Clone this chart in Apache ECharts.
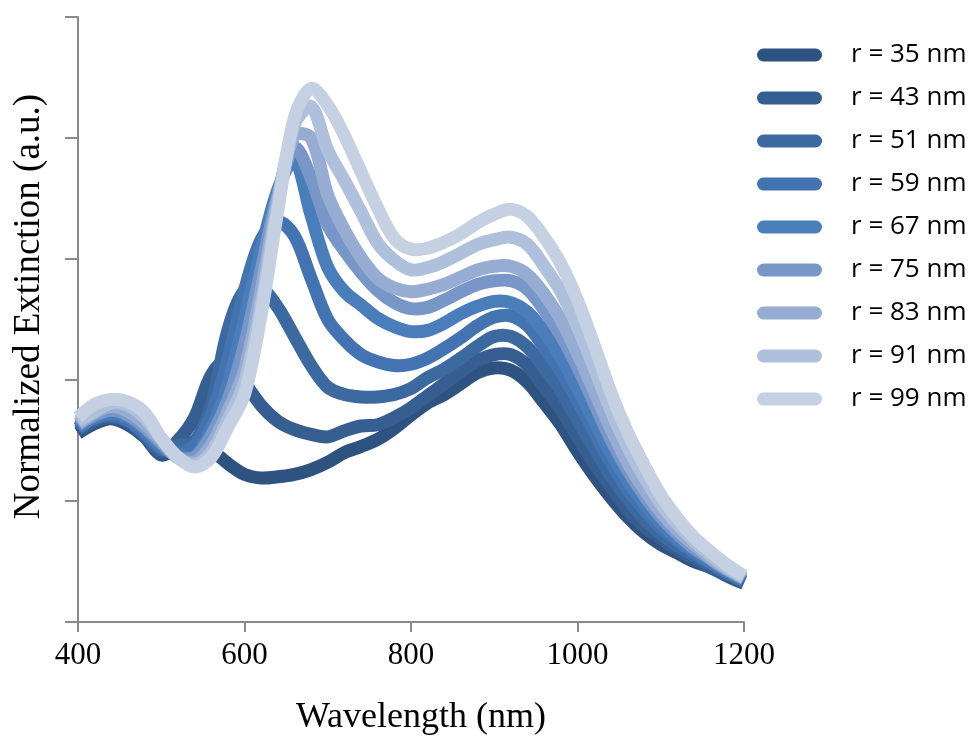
<!DOCTYPE html>
<html>
<head>
<meta charset="utf-8">
<script src="https://cdn.jsdelivr.net/npm/echarts@6/dist/echarts.min.js"></script>
<style>
html,body{margin:0;padding:0;background:#fff;}
#chart{width:976px;height:744px;}
</style>
</head>
<body>
<div id="chart"></div>
<script>
// wavelength grid (nm)
var wavelengths = [400,420,440,460,480,500,520,540,560,580,600,620,640,660,680,700,720,740,760,780,800,820,840,860,880,900,920,940,960,980,1000,1020,1040,1060,1080,1100,1120,1140,1160,1180,1200];
// normalized extinction for each radius
var r35 = [1.56,1.64,1.68,1.63,1.53,1.38,1.45,1.48,1.42,1.31,1.22,1.19,1.20,1.22,1.26,1.32,1.40,1.45,1.51,1.60,1.71,1.81,1.88,1.97,2.06,2.10,2.08,1.98,1.81,1.63,1.41,1.21,1.03,0.87,0.74,0.64,0.57,0.50,0.45,0.38,0.32];
var r43 = [1.58,1.66,1.69,1.65,1.54,1.40,1.50,1.69,2.04,2.17,1.98,1.79,1.66,1.59,1.55,1.53,1.58,1.62,1.63,1.69,1.77,1.87,1.97,2.07,2.16,2.21,2.21,2.12,1.94,1.75,1.53,1.31,1.12,0.93,0.79,0.69,0.60,0.52,0.45,0.39,0.33];
var r51 = [1.60,1.68,1.70,1.66,1.55,1.42,1.46,1.49,1.79,2.41,2.74,2.76,2.60,2.36,2.12,1.94,1.88,1.86,1.86,1.88,1.93,2.02,2.09,2.18,2.28,2.36,2.36,2.27,2.10,1.91,1.67,1.44,1.21,1.02,0.85,0.73,0.63,0.55,0.47,0.40,0.33];
var r59 = [1.60,1.69,1.71,1.67,1.56,1.44,1.40,1.46,1.71,2.17,2.74,3.16,3.31,3.19,2.84,2.50,2.33,2.21,2.15,2.12,2.13,2.18,2.26,2.35,2.45,2.52,2.53,2.45,2.27,2.07,1.83,1.57,1.32,1.10,0.93,0.78,0.67,0.57,0.49,0.41,0.34];
var r67 = [1.61,1.69,1.73,1.69,1.59,1.45,1.38,1.37,1.59,1.96,2.50,3.07,3.57,3.82,3.36,2.93,2.73,2.62,2.51,2.44,2.40,2.41,2.47,2.55,2.61,2.65,2.64,2.56,2.40,2.19,1.93,1.67,1.40,1.17,0.98,0.82,0.69,0.59,0.50,0.42,0.35];
var r75 = [1.63,1.71,1.75,1.71,1.61,1.48,1.36,1.36,1.54,1.83,2.29,2.91,3.53,3.92,3.67,3.28,3.07,2.89,2.74,2.64,2.59,2.60,2.66,2.73,2.79,2.82,2.82,2.75,2.58,2.37,2.11,1.81,1.51,1.26,1.05,0.87,0.73,0.61,0.52,0.43,0.36];
var r83 = [1.64,1.73,1.78,1.74,1.64,1.50,1.36,1.32,1.46,1.74,2.08,2.74,3.49,4.02,4.00,3.53,3.24,3.01,2.84,2.76,2.73,2.75,2.79,2.85,2.91,2.94,2.94,2.87,2.71,2.50,2.22,1.91,1.60,1.32,1.10,0.91,0.76,0.64,0.53,0.44,0.36];
var r91 = [1.66,1.74,1.81,1.79,1.69,1.52,1.36,1.30,1.40,1.67,1.98,2.62,3.45,4.11,4.26,3.90,3.65,3.39,3.13,2.99,2.91,2.93,2.98,3.05,3.12,3.16,3.18,3.12,2.94,2.73,2.44,2.10,1.75,1.45,1.20,0.98,0.81,0.67,0.55,0.45,0.37];
var r99 = [1.69,1.80,1.84,1.82,1.73,1.52,1.36,1.28,1.36,1.61,1.88,2.54,3.40,4.17,4.41,4.27,4.02,3.72,3.42,3.17,3.08,3.09,3.14,3.21,3.30,3.37,3.41,3.35,3.18,2.96,2.66,2.29,1.90,1.57,1.30,1.05,0.86,0.70,0.58,0.47,0.38];
var seriesNames = ['r = 35 nm','r = 43 nm','r = 51 nm','r = 59 nm','r = 67 nm','r = 75 nm','r = 83 nm','r = 91 nm','r = 99 nm'];
var seriesValues = [r35,r43,r51,r59,r67,r75,r83,r91,r99];
var colors = ['#2E5380','#365E91','#3D69A1','#4373B0','#4A7EBB','#7896C7','#97ACD2','#AFC0DC','#C6D0E3'];

var chart = echarts.init(document.getElementById('chart'), null, {renderer:'canvas'});
var axisGray = '#8A8A8A';
var serif = '"Liberation Serif","Times New Roman",serif';

function makeRender(vals, color){
  return function(params, api){
    if (params.dataIndex !== 0) return null;
    var pts = wavelengths.map(function(w,i){ return api.coord([w, vals[i]]); });
    return {
      type: 'polyline',
      shape: {points: pts, smooth: 0.33},
      style: {stroke: color, lineWidth: 13, fill: 'none', lineJoin: 'round', lineCap: 'butt'},
      silent: true
    };
  };
}

var series = seriesValues.map(function(vals, k){
  return {
    name: seriesNames[k],
    type: 'custom',
    coordinateSystem: 'cartesian2d',
    encode: {x: 0, y: 1},
    data: wavelengths.map(function(w,i){ return [w, vals[i]]; }),
    renderItem: makeRender(vals, colors[k]),
    itemStyle: {color: colors[k]},
    z: 2 + k,
    animation: false
  };
});

chart.setOption({
  animation: false,
  color: colors,
  grid: {left: 78, right: 232, top: 17, bottom: 122, containLabel: false},
  legend: {
    orient: 'vertical',
    left: 757,
    top: 42,
    padding: 0,
    itemWidth: 65,
    itemHeight: 13,
    itemGap: 17,
    icon: 'path://M6.5,0 H58.5 A6.5,6.5 0 0 1 58.5,13 H6.5 A6.5,6.5 0 0 1 6.5,0 Z',
    data: seriesNames.map(function(n,k){ return {name: n, itemStyle: {color: colors[k]}}; }),
    textStyle: {fontFamily: '"Open Sans",sans-serif', fontSize: 26, color: '#000', lineHeight: 26, padding: [0,0,0,24]}
  },
  xAxis: {
    type: 'value',
    min: 400, max: 1200, interval: 200,
    name: 'Wavelength (nm)',
    nameLocation: 'middle',
    nameGap: 78,
    nameTextStyle: {fontFamily: serif, fontSize: 36, color: '#000', padding: [0,0,0,20]},
    axisLine: {show: true, lineStyle: {color: axisGray, width: 2}},
    axisTick: {show: true, length: 10, lineStyle: {color: axisGray, width: 2}},
    axisLabel: {fontFamily: serif, fontSize: 31, color: '#000', margin: 18,
      formatter: function(v){ return String(v); }},
    splitLine: {show: false}
  },
  yAxis: {
    type: 'value',
    min: 0, max: 5, interval: 1,
    name: 'Normalized Extinction (a.u.)',
    nameLocation: 'middle',
    nameGap: 30,
    nameTextStyle: {fontFamily: serif, fontSize: 37, color: '#000', padding: [0,0,0,26]},
    axisLine: {show: true, onZero: false, lineStyle: {color: axisGray, width: 2}},
    axisTick: {show: true, length: 13, lineStyle: {color: axisGray, width: 2}},
    axisLabel: {show: false},
    splitLine: {show: false}
  },
  series: series
});
</script>
</body>
</html>
